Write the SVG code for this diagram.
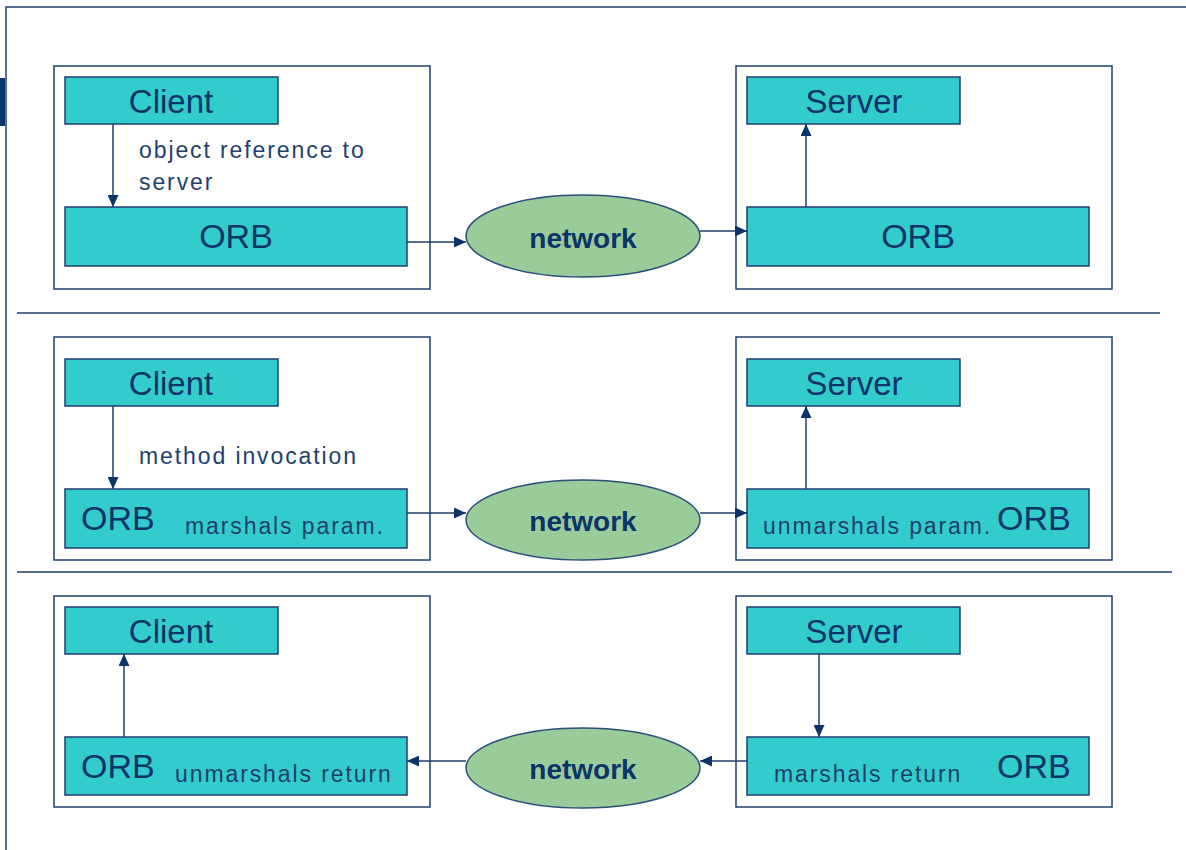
<svg xmlns="http://www.w3.org/2000/svg" width="1186" height="850" viewBox="0 0 1186 850">
<style>
.frame{fill:none;stroke:#1F3F6E;stroke-width:1.5}
.box{fill:#FFFFFF;stroke:#1F3F6E;stroke-width:1.5}
.comp{fill:#33CCCC;stroke:#1F3F6E;stroke-width:1.5}
.net{fill:#99CC99;stroke:#2B4F7E;stroke-width:1.5}
.conn{stroke:#1F3F6E;stroke-width:1.5;fill:none}
.big{font-family:"Liberation Sans",Arial,sans-serif;font-size:33px;fill:#0B3468}
.orb{font-family:"Liberation Sans",Arial,sans-serif;font-size:34px;fill:#0B3468}
.nt{font-family:"Liberation Sans",Arial,sans-serif;font-size:28px;font-weight:bold;fill:#0B3468}
.sm{font-family:"Liberation Sans",Arial,sans-serif;font-size:23px;letter-spacing:1.9px;fill:#1F3F6E}
</style>
<defs>
<marker id="ah" markerUnits="userSpaceOnUse" markerWidth="13" markerHeight="11" refX="12" refY="5.5" orient="auto">
<path d="M0,0 L12,5.5 L0,11 Z" fill="#0B3468"/>
</marker>
</defs>
<rect width="1186" height="850" fill="#FFFFFF"/>
<g id="frame">
<path class="frame" d="M6,850 L6,7 L1186,7"/>
<rect x="0" y="78" width="5" height="48" fill="#0B3468"/>
<line class="frame" x1="17" y1="313" x2="1160" y2="313"/>
<line class="frame" x1="17" y1="572" x2="1172" y2="572"/>
</g>
<!-- Row 1 -->
<g id="r1-client-host"><rect class="box" x="54" y="66" width="376" height="223"/></g>
<g id="r1-server-host"><rect class="box" x="736" y="66" width="376" height="223"/></g>
<g id="r1-client"><rect class="comp" x="65" y="77" width="213" height="47"/><text class="big" x="171" y="113" text-anchor="middle">Client</text></g>
<g id="r1-orb-left"><rect class="comp" x="65" y="207" width="342" height="59"/><text class="orb" x="236" y="248" text-anchor="middle">ORB</text></g>
<g id="r1-server"><rect class="comp" x="747" y="77" width="213" height="47"/><text class="big" x="854" y="113" text-anchor="middle">Server</text></g>
<g id="r1-orb-right"><rect class="comp" x="747" y="207" width="342" height="59"/><text class="orb" x="918" y="248" text-anchor="middle">ORB</text></g>
<g id="r1-network"><ellipse class="net" cx="583" cy="236" rx="117" ry="41"/><text class="nt" x="583" y="248" text-anchor="middle">network</text></g>
<text class="sm" x="139" y="158">object reference to</text>
<text class="sm" x="139" y="190">server</text>
<!-- Row 2 -->
<g id="r2-client-host"><rect class="box" x="54" y="337" width="376" height="223"/></g>
<g id="r2-server-host"><rect class="box" x="736" y="337" width="376" height="223"/></g>
<g id="r2-client"><rect class="comp" x="65" y="359" width="213" height="47"/><text class="big" x="171" y="395" text-anchor="middle">Client</text></g>
<g id="r2-orb-left"><rect class="comp" x="65" y="489" width="342" height="59"/><text class="orb" x="81" y="530">ORB</text><text class="sm" x="185" y="534">marshals param.</text></g>
<g id="r2-server"><rect class="comp" x="747" y="359" width="213" height="47"/><text class="big" x="854" y="395" text-anchor="middle">Server</text></g>
<g id="r2-orb-right"><rect class="comp" x="747" y="489" width="342" height="59"/><text class="sm" x="763" y="534">unmarshals param.</text><text class="orb" x="997" y="530">ORB</text></g>
<g id="r2-network"><ellipse class="net" cx="583" cy="520" rx="117" ry="40"/><text class="nt" x="583" y="531" text-anchor="middle">network</text></g>
<text class="sm" x="139" y="464">method invocation</text>
<!-- Row 3 -->
<g id="r3-client-host"><rect class="box" x="54" y="596" width="376" height="211"/></g>
<g id="r3-server-host"><rect class="box" x="736" y="596" width="376" height="211"/></g>
<g id="r3-client"><rect class="comp" x="65" y="607" width="213" height="47"/><text class="big" x="171" y="643" text-anchor="middle">Client</text></g>
<g id="r3-orb-left"><rect class="comp" x="65" y="737" width="342" height="58"/><text class="orb" x="81" y="778">ORB</text><text class="sm" x="175" y="782">unmarshals return</text></g>
<g id="r3-server"><rect class="comp" x="747" y="607" width="213" height="47"/><text class="big" x="854" y="643" text-anchor="middle">Server</text></g>
<g id="r3-orb-right"><rect class="comp" x="747" y="737" width="342" height="58"/><text class="sm" x="774" y="782">marshals return</text><text class="orb" x="997" y="778">ORB</text></g>
<g id="r3-network"><ellipse class="net" cx="583" cy="768" rx="117" ry="40"/><text class="nt" x="583" y="779" text-anchor="middle">network</text></g>
<g id="connectors">
<line class="conn" x1="113" y1="124" x2="113" y2="207" marker-end="url(#ah)"/>
<line class="conn" x1="407" y1="242" x2="466" y2="242" marker-end="url(#ah)"/>
<line class="conn" x1="700" y1="231" x2="747" y2="231" marker-end="url(#ah)"/>
<line class="conn" x1="806" y1="207" x2="806" y2="124" marker-end="url(#ah)"/>
<line class="conn" x1="113" y1="406" x2="113" y2="489" marker-end="url(#ah)"/>
<line class="conn" x1="407" y1="513" x2="466" y2="513" marker-end="url(#ah)"/>
<line class="conn" x1="700" y1="513" x2="747" y2="513" marker-end="url(#ah)"/>
<line class="conn" x1="806" y1="489" x2="806" y2="406" marker-end="url(#ah)"/>
<line class="conn" x1="124" y1="737" x2="124" y2="654" marker-end="url(#ah)"/>
<line class="conn" x1="819" y1="654" x2="819" y2="737" marker-end="url(#ah)"/>
<line class="conn" x1="747" y1="761" x2="700" y2="761" marker-end="url(#ah)"/>
<line class="conn" x1="466" y1="761" x2="407" y2="761" marker-end="url(#ah)"/>
</g>
</svg>
